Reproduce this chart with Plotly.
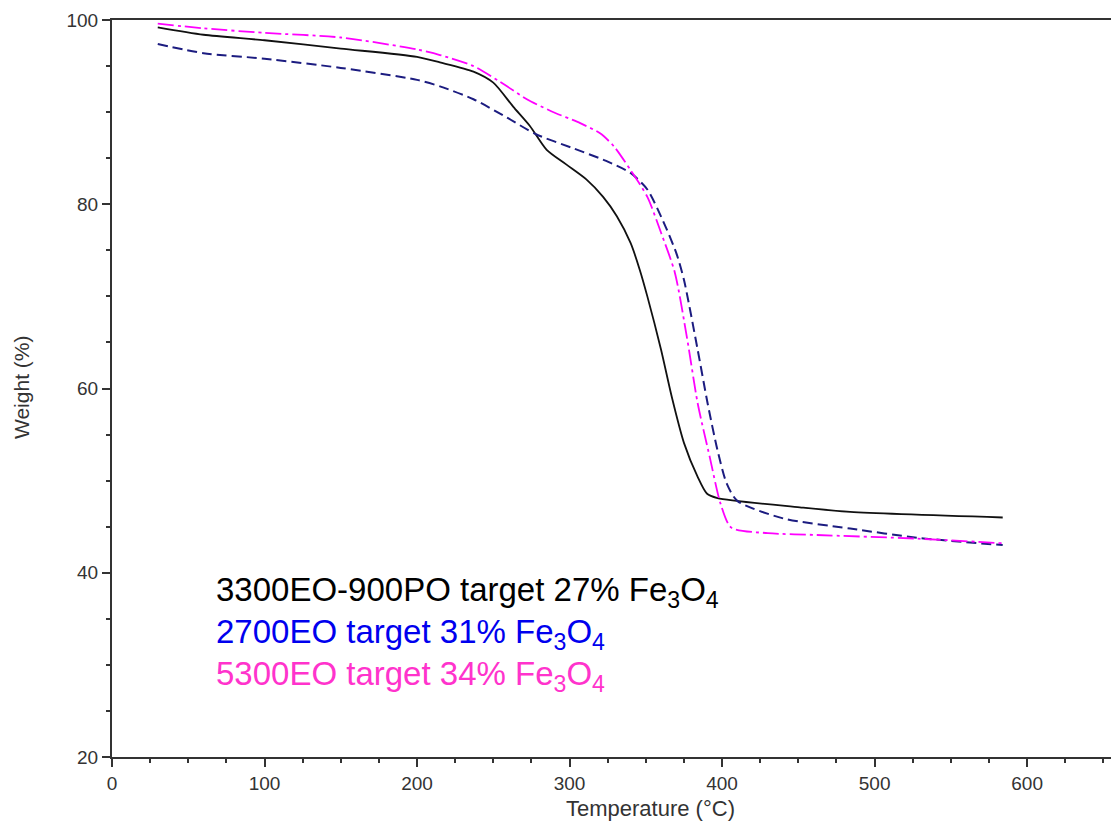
import plotly.graph_objects as go

# Temperature (°C) / Weight (%)
t_black = [30, 60, 100, 150, 200, 215, 237, 250, 263, 274, 285, 298, 311, 322, 331, 340, 346, 351, 360, 367, 375, 384, 390, 397, 451, 484, 584]
w_black = [99.2, 98.4, 97.8, 96.9, 96.0, 95.4, 94.4, 93.2, 90.6, 88.5, 85.9, 84.3, 82.7, 80.8, 78.7, 75.8, 72.9, 70.0, 64.2, 59.1, 54.1, 50.4, 48.6, 48.1, 47.1, 46.6, 46.0]

t_blue = [30, 60, 100, 150, 200, 215, 237, 259, 278, 302, 324, 340, 351, 361, 370, 375, 384, 390.5, 397, 403, 410, 440, 484, 528, 584]
w_blue = [97.4, 96.4, 95.8, 94.8, 93.5, 92.8, 91.4, 89.4, 87.6, 86.1, 84.7, 83.4, 81.6, 78.3, 74.7, 71.8, 64.2, 58.4, 53.3, 49.7, 47.8, 45.9, 44.8, 43.8, 43.0]

t_mag = [30, 60, 100, 150, 200, 215, 237, 259, 272, 288, 307, 320, 329, 340, 351, 360, 369, 377, 384, 392, 399, 406, 430, 462, 528, 584]
w_mag = [99.6, 99.1, 98.6, 98.1, 96.8, 96.2, 95.0, 92.8, 91.4, 90.1, 88.8, 87.7, 86.3, 83.7, 80.8, 76.9, 72.6, 65.5, 58.4, 52.5, 47.5, 44.9, 44.3, 44.1, 43.7, 43.2]

legend_lines = [
    ("3300EO-900PO target 27% Fe<sub>3</sub>O<sub>4</sub>", "#000000"),
    ("2700EO target 31% Fe<sub>3</sub>O<sub>4</sub>", "#0000ee"),
    ("5300EO target 34% Fe<sub>3</sub>O<sub>4</sub>", "#ff33cc"),
]

x_ticks = [0, 100, 200, 300, 400, 500, 600]
y_ticks = [20, 40, 60, 80, 100]

W, H = 1111, 823
L, R, T, B = 112, 0, 20, 66
pw, ph = W - L - R, H - T - B


def px2paper(px, py):
    return (px - L) / pw, (H - B - py) / ph


FONT = "Liberation Sans, Arial"

fig = go.Figure()
fig.add_trace(go.Scatter(x=t_black, y=w_black, mode="lines", line=dict(color="#111111", width=1.8, shape="spline", smoothing=0.7)))
fig.add_trace(go.Scatter(x=t_blue, y=w_blue, mode="lines", line=dict(color="#1c1c80", width=2, dash="10px,5px", shape="spline", smoothing=0.7)))
fig.add_trace(go.Scatter(x=t_mag, y=w_mag, mode="lines", line=dict(color="#ff00ff", width=1.8, dash="16px,4px,3px,4px", shape="spline", smoothing=0.7)))

for i, (txt, col) in enumerate(legend_lines):
    ax, ay = px2paper(214, 592 + 42 * i)
    fig.add_annotation(x=ax, y=ay, xref="paper", yref="paper", text=txt,
                       showarrow=False, font=dict(family=FONT, size=33, color=col),
                       xanchor="left", yanchor="middle")

ax, ay = px2paper(650, 808)
fig.add_annotation(x=ax, y=ay, xref="paper", yref="paper",
                   text="Temperature (°C)", showarrow=False, xanchor="center", yanchor="middle",
                   font=dict(family=FONT, size=22, color="#333333"))
ax, ay = px2paper(22, 388)
fig.add_annotation(x=ax, y=ay, xref="paper", yref="paper",
                   text="Weight (%)", showarrow=False, xanchor="center", yanchor="middle", textangle=-90,
                   font=dict(family=FONT, size=21, color="#333333"))

fig.update_layout(
    width=W, height=H,
    margin=dict(l=L, r=R, t=T, b=B),
    paper_bgcolor="white", plot_bgcolor="white",
    showlegend=False,
    font=dict(family=FONT, size=19, color="#333333"),
)
fig.update_xaxes(range=[0, 655], tickvals=x_ticks, showgrid=False, zeroline=False,
                 showline=True, linecolor="#333333", linewidth=2, mirror=True,
                 ticks="outside", ticklen=8, tickwidth=2, tickcolor="#333333",
                 minor=dict(dtick=25, ticks="outside", ticklen=4, tickwidth=2, tickcolor="#333333"),
                 tickfont=dict(family=FONT, size=19, color="#333333"))
fig.update_yaxes(range=[20, 100], tickvals=y_ticks, showgrid=False, zeroline=False,
                 showline=True, linecolor="#333333", linewidth=2,
                 ticks="outside", ticklen=8, tickwidth=2, tickcolor="#333333",
                 minor=dict(dtick=5, ticks="outside", ticklen=4, tickwidth=2, tickcolor="#333333"),
                 tickfont=dict(family=FONT, size=19, color="#333333"))

fig.write_html("out.html")
